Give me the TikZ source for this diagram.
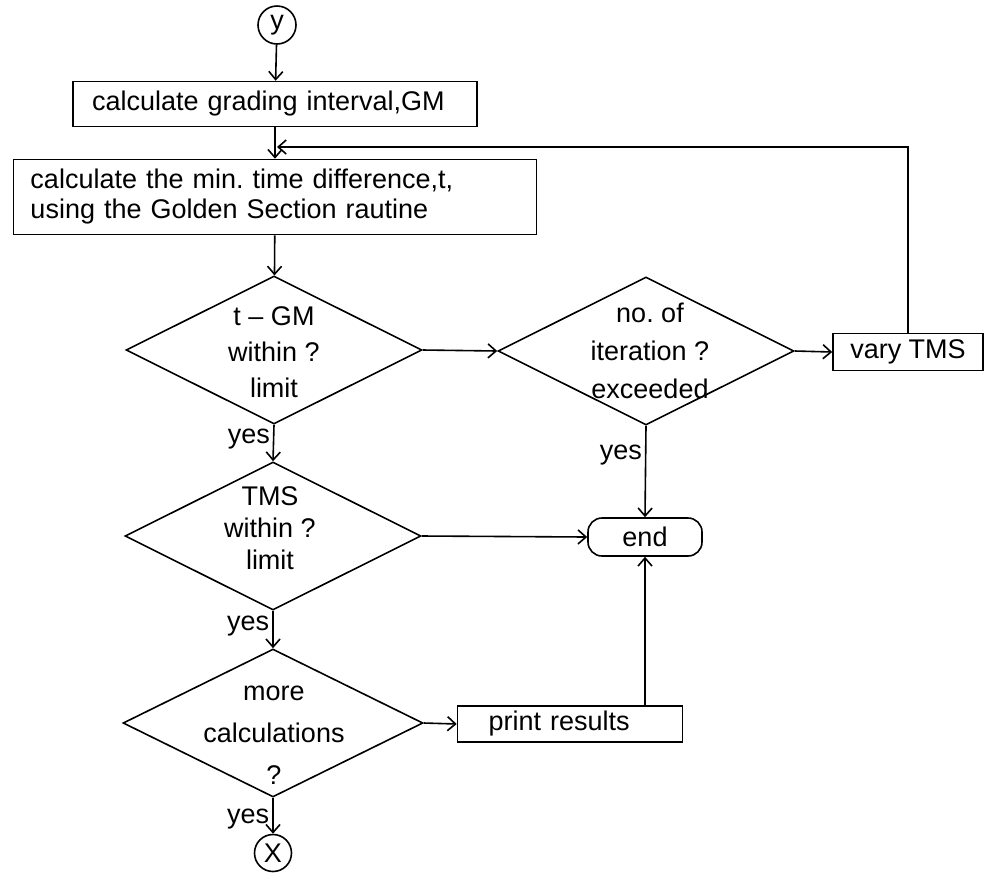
\documentclass[tikz,border=0pt]{standalone}
\usepackage{fontspec}
\setmainfont{Liberation Sans}
\usetikzlibrary{arrows.meta,positioning,shapes.geometric}

\begin{document}
\begin{tikzpicture}[x=0.5pt,y=-0.5pt,line width=0.8pt,font=\fontsize{13.5}{15}\selectfont,
  flow/.style={-{Straight Barb[length=4pt,width=7pt]}},
  procbox/.style={draw,rectangle,inner ysep=0pt,align=left},
  decision/.style={draw,diamond,inner sep=0pt,minimum width=148pt,minimum height=74pt},
  connector/.style={draw,circle,inner sep=0pt,minimum size=18.5pt},
  yeslab/.style={left,inner sep=1.5pt}]
\useasboundingbox (0,0) rectangle (985,874);
% main column
\node[connector,minimum size=19pt] (ycon) at (277,25) {y};
\node[procbox,inner xsep=9.5pt,text width=183pt,minimum height=22.5pt] (grade) at (275,104) {calculate grading interval,GM};
\node[procbox,inner xsep=8.5pt,text width=244.5pt,minimum height=37.5pt] (mintime) at (275,197) {calculate the min.\ time difference,t,\\using the Golden Section rautine};
\node[decision] (chkgm) at (274,350) {};
\node[align=center,font=\fontsize{13.5}{18}\selectfont] (chkgmtxt) at (274,352) {t -- GM\\within ?\\limit};
\node[decision] (chktms) at (273,536) {};
\node[align=center,font=\fontsize{13.5}{16}\selectfont] (chktmstxt) at (270,528) {TMS\\within ?\\limit};
\node[decision,minimum width=150pt] (more) at (273,723) {};
\node[align=center,font=\fontsize{13.5}{21}\selectfont] (moretxt) at (274,735) {more\\calculations\\?};
\node[connector] (xcon) at (273,853) {X};
% right hand side
\node[decision] (iter) at (646,351) {};
\node[align=center,font=\fontsize{13.5}{19}\selectfont] (itertxt) at (650,351) {no.\ of\\iteration ?\\exceeded};
\node[procbox,align=center,minimum width=75pt,minimum height=18.5pt] (vary) at (908,352) {vary TMS};
\node[draw,rectangle,rounded corners=7pt,inner sep=0pt,minimum width=57pt,minimum height=19pt] (stop) at (645,537) {end};
\node[procbox,inner xsep=15.5pt,text width=81.5pt,minimum height=18pt] (print) at (570,724) {print results};
\coordinate (loop) at (277,147);
% connectors
\draw[flow] (ycon) -- (grade);
\draw[flow] (grade) -- (mintime);
\draw[flow] (mintime) -- (chkgm);
\draw[flow] (chkgm.south) -- node[yeslab,pos=0.4] (yes1) {yes} (chktms.north);
\draw[flow] (chktms.south) -- node[yeslab,pos=0.4] (yes2) {yes} (more.north);
\draw[flow] (more.south) -- node[yeslab,pos=0.6] (yes3) {yes} (xcon);
\draw[flow] (chkgm.east) -- (iter.west);
\draw[flow] (iter.east) -- (vary.west);
\draw[flow] (iter.south) -- node[yeslab,pos=0.32] (yes4) {yes} (stop.north);
\draw[flow] (chktms.east) -- (stop.west);
\draw[flow] (more.east) -- (print.west);
\draw[flow] (stop.south |- print.north) -- (stop.south);
\draw[flow] (vary.north) |- (loop);
\end{tikzpicture}
\end{document}
